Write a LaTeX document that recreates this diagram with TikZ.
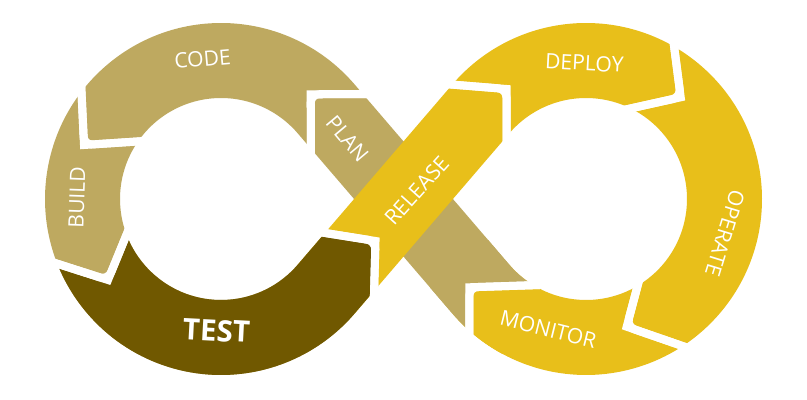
\documentclass[tikz,border=0pt]{standalone}
\usepackage{fontspec}
\setmainfont{Open Sans}
\definecolor{plantan}{RGB}{190,169,96}
\definecolor{testbrown}{RGB}{112,88,0}
\definecolor{relyellow}{RGB}{232,191,26}
\usepackage{tikz}
\usetikzlibrary{calc}

\begin{document}
\begin{tikzpicture}[x=0.025cm, y=0.025cm,
  phase/.style={font=\fontsize{15pt}{15pt}\selectfont, text=white, inner sep=0pt},
  gapline/.style={white, line width=5.7pt}
]
  \path[fill=white, use as bounding box] (0,0) rectangle (807,400);

  % Loop centres and tangent points of the crossing
  \coordinate (L) at (221,201);
  \coordinate (R) at (586,201);
  \coordinate (p1) at ([shift={(L)}]40.6:176);
  \coordinate (p3) at ([shift={(L)}]40.6:101);
  \coordinate (p2) at ([shift={(R)}]220.6:101);
  \coordinate (p4) at ([shift={(R)}]220.6:176);
  \coordinate (r1) at ([shift={(L)}]-40.6:176);
  \coordinate (r3) at ([shift={(L)}]-40.6:101);
  \coordinate (r2) at ([shift={(R)}]139.4:101);
  \coordinate (r4) at ([shift={(R)}]139.4:176);

  % Left loop and PLAN band
  \fill[plantan] (p1) arc[start angle=40.6, end angle=319.4, radius=176] -- (r3)
    arc[start angle=319.4, end angle=40.6, radius=101] -- (p4) -- (p2) -- cycle;

  % Right loop and RELEASE band (on top)
  \fill[relyellow] (r4) arc[start angle=139.4, end angle=-139.4, radius=176] -- (p2)
    arc[start angle=-139.4, end angle=139.4, radius=101] -- (r1) -- (r3) -- cycle;

  % TEST
  \begin{scope}
    \clip (30,145) -- (108,120) -- (135,185) -- (L) -- (300,171) -- (375.5,159)
      -- (373,70) -- (380,-10) -- (20,-10) -- (10,140) -- cycle;
    \fill[testbrown] (p1) arc[start angle=40.6, end angle=319.4, radius=176] -- (r3)
      arc[start angle=319.4, end angle=40.6, radius=101] -- cycle
      (r1) -- (r2) -- (r4) -- (r3) -- cycle;
  \end{scope}

  % PLAN tail and MONITOR head where the band meets the right loop
  \begin{scope}
    \clip (p1) -- (p2) -- (p4) -- (p3) -- cycle
      (r4) arc[start angle=139.4, end angle=-139.4, radius=176] -- (p2)
      arc[start angle=-139.4, end angle=139.4, radius=101] -- cycle;
    \fill[plantan] (469.5,20) -- (469.3,112.7) -- (540,115) -- (540,160) -- (430,160) -- (430,20) -- cycle;
    \fill[relyellow] (469.5,50) -- (469.3,112.7) -- (540,115) -- (560,40) -- cycle;
  \end{scope}

  % White gaps between the phases
  \foreach \ax/\ay/\bx/\by/\cx/\cy in {
      80/340/84/255/160/260,        % CODE | BUILD
      30/145/108/120/135/186,       % BUILD | TEST
      300/171/375.5/159/373/70,     % TEST | RELEASE
      420/318/506.5/311/506.5/240,  % RELEASE | DEPLOY
      670/385/680.7/302.7/610/287,  % DEPLOY | OPERATE
      645/142/626.7/73.3/720/41,    % OPERATE | MONITOR
      540/115/469.3/112.7/469.5/30, % MONITOR | PLAN
      380/306/310.7/305.7/311/230}  % PLAN | CODE
  {
    \draw[gapline] (\ax,\ay) -- (\bx,\by) -- (\cx,\cy);
    \draw[gapline, rounded corners=6pt] (\ax,\ay) -- (\bx,\by) -- (\cx,\cy);
  }

  % Phase names
  \node[phase, rotate=5] (code) at (202.5,341) {CODE};
  \node[phase, rotate=88] (build) at (77,202.5) {BUILD};
  \node[phase, font=\bfseries\fontsize{21pt}{21pt}\selectfont, rotate=-3] (test) at (216.5,69.5) {TEST};
  \node[phase, rotate=-50] (plan) at (347.5,261) {PLAN};
  \node[phase, rotate=48] (release) at (416.7,209.3) {RELEASE};
  \node[phase, rotate=-3] (deploy) at (584.3,337) {DEPLOY};
  \node[phase, rotate=-107] (operate) at (725,166.7) {OPERATE};
  \node[phase, rotate=-14] (monitor) at (548.3,70.7) {MONITOR};
\end{tikzpicture}
\end{document}
